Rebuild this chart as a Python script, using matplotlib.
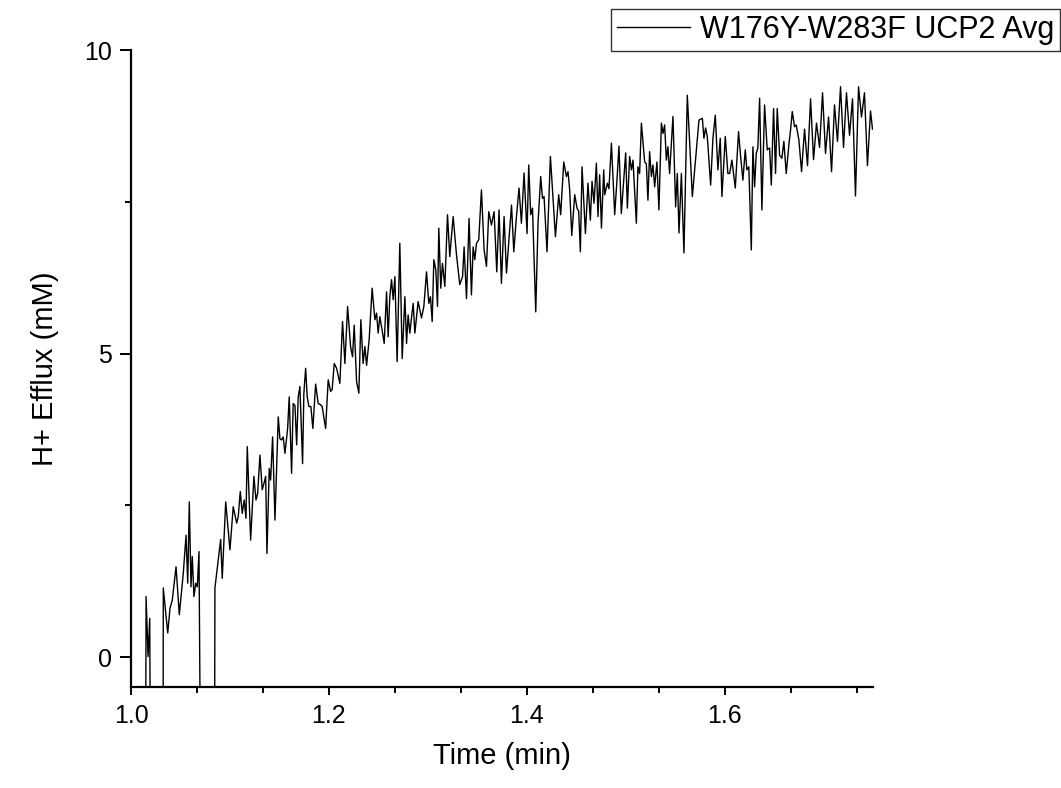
import matplotlib
matplotlib.use("Agg")
import matplotlib.pyplot as plt
from matplotlib.ticker import MultipleLocator, AutoMinorLocator, FormatStrFormatter

plt.rcParams['font.family'] = ['Liberation Sans', 'DejaVu Sans']

# time (min) and H+ efflux (mM); -3 marks dips below the axis
time_min = [
    1.0146, 1.0152, 1.0172, 1.0189, 1.0199, 1.0323, 1.0326, 1.0371, 1.0394, 1.0417,
    1.0455, 1.0488, 1.0528, 1.0556, 1.0573, 1.0589, 1.0606, 1.0619, 1.0636, 1.0654,
    1.0670, 1.0687, 1.0707, 1.0843, 1.0848, 1.0886, 1.0906, 1.0922, 1.0957, 1.1000,
    1.1033, 1.1068, 1.1084, 1.1104, 1.1124, 1.1144, 1.1162, 1.1175, 1.1209, 1.1242,
    1.1263, 1.1280, 1.1303, 1.1326, 1.1343, 1.1361, 1.1374, 1.1397, 1.1411, 1.1431,
    1.1455, 1.1488, 1.1505, 1.1522, 1.1538, 1.1556, 1.1583, 1.1599, 1.1623, 1.1639,
    1.1657, 1.1674, 1.1690, 1.1707, 1.1734, 1.1747, 1.1765, 1.1781, 1.1798, 1.1818,
    1.1838, 1.1866, 1.1892, 1.1916, 1.1932, 1.1967, 1.1993, 1.2017, 1.2033, 1.2054,
    1.2078, 1.2111, 1.2138, 1.2162, 1.2189, 1.2219, 1.2239, 1.2256, 1.2280, 1.2303,
    1.2323, 1.2346, 1.2364, 1.2381, 1.2407, 1.2437, 1.2465, 1.2482, 1.2498, 1.2515,
    1.2538, 1.2559, 1.2583, 1.2599, 1.2616, 1.2633, 1.2650, 1.2667, 1.2690, 1.2717,
    1.2741, 1.2768, 1.2785, 1.2801, 1.2818, 1.2838, 1.2852, 1.2869, 1.2902, 1.2936,
    1.2960, 1.2987, 1.3010, 1.3027, 1.3044, 1.3061, 1.3081, 1.3098, 1.3111, 1.3131,
    1.3148, 1.3172, 1.3199, 1.3222, 1.3256, 1.3290, 1.3323, 1.3351, 1.3367, 1.3391,
    1.3417, 1.3441, 1.3458, 1.3475, 1.3492, 1.3515, 1.3542, 1.3569, 1.3593, 1.3616,
    1.3643, 1.3670, 1.3697, 1.3720, 1.3744, 1.3771, 1.3795, 1.3821, 1.3846, 1.3869,
    1.3896, 1.3922, 1.3946, 1.3973, 1.4003, 1.4020, 1.4040, 1.4058, 1.4091, 1.4114,
    1.4141, 1.4159, 1.4175, 1.4205, 1.4239, 1.4290, 1.4323, 1.4343, 1.4374, 1.4401,
    1.4417, 1.4434, 1.4455, 1.4485, 1.4508, 1.4525, 1.4542, 1.4559, 1.4593, 1.4619,
    1.4643, 1.4660, 1.4680, 1.4704, 1.4720, 1.4737, 1.4755, 1.4778, 1.4788, 1.4815,
    1.4831, 1.4856, 1.4889, 1.4912, 1.4932, 1.4956, 1.4980, 1.5000, 1.5017, 1.5040,
    1.5058, 1.5074, 1.5108, 1.5124, 1.5141, 1.5159, 1.5192, 1.5209, 1.5225, 1.5242,
    1.5260, 1.5276, 1.5293, 1.5316, 1.5336, 1.5361, 1.5377, 1.5394, 1.5411, 1.5427,
    1.5444, 1.5478, 1.5505, 1.5522, 1.5539, 1.5563, 1.5589, 1.5623, 1.5674, 1.5741,
    1.5775, 1.5791, 1.5808, 1.5825, 1.5859, 1.5882, 1.5906, 1.5932, 1.5956, 1.5973,
    1.6007, 1.6033, 1.6051, 1.6074, 1.6108, 1.6141, 1.6162, 1.6185, 1.6209, 1.6225,
    1.6245, 1.6270, 1.6286, 1.6303, 1.6320, 1.6336, 1.6354, 1.6377, 1.6404, 1.6431,
    1.6455, 1.6472, 1.6495, 1.6515, 1.6532, 1.6556, 1.6579, 1.6599, 1.6623, 1.6650,
    1.6667, 1.6684, 1.6707, 1.6724, 1.6751, 1.6778, 1.6808, 1.6838, 1.6869, 1.6899,
    1.6929, 1.6960, 1.6990, 1.7020, 1.7051, 1.7081, 1.7111, 1.7141, 1.7172, 1.7202,
    1.7232, 1.7263, 1.7293, 1.7323, 1.7354, 1.7384, 1.7414, 1.7444, 1.7475, 1.7495,
]
efflux_mM = [
    -3.0, 1.00, 0.01, 0.64, -3.0, -3.0, 1.14, 0.40, 0.81, 0.94,
    1.49, 0.70, 1.38, 2.01, 1.22, 2.56, 1.16, 1.66, 1.00, 1.22,
    1.16, 1.74, -3.0, -3.0, 1.14, 1.66, 1.94, 1.30, 2.56, 1.77,
    2.48, 2.21, 2.32, 2.73, 2.37, 2.59, 2.29, 3.47, 1.93, 2.98,
    2.59, 2.70, 3.33, 2.76, 2.86, 2.98, 1.71, 3.11, 2.92, 3.63,
    2.26, 3.96, 3.60, 3.58, 3.63, 3.36, 3.77, 4.29, 3.03, 4.18,
    4.15, 3.50, 4.29, 4.46, 3.19, 4.35, 4.76, 4.29, 4.13, 4.13,
    3.77, 4.50, 4.18, 4.16, 4.13, 3.77, 4.57, 4.38, 4.41, 4.84,
    4.76, 4.51, 5.53, 4.84, 5.78, 5.12, 4.95, 5.47, 4.54, 4.35,
    5.56, 4.84, 5.12, 4.81, 5.23, 6.08, 5.56, 5.67, 5.34, 5.61,
    5.39, 5.17, 6.02, 5.28, 5.94, 6.22, 5.89, 6.27, 4.87, 6.82,
    4.92, 5.94, 5.17, 5.64, 5.34, 5.64, 5.83, 5.34, 5.86, 5.59,
    5.78, 6.35, 5.83, 5.94, 5.53, 6.55, 6.38, 5.78, 7.07, 6.08,
    6.49, 6.11, 7.29, 6.60, 7.26, 6.63, 6.14, 6.27, 6.76, 5.91,
    7.23, 5.97, 6.76, 6.55, 6.82, 6.88, 7.70, 6.71, 6.44, 7.34,
    7.12, 7.34, 6.35, 7.37, 6.16, 7.26, 6.33, 6.90, 7.45, 6.68,
    7.26, 7.73, 7.15, 7.98, 6.98, 8.11, 7.29, 7.40, 5.69, 7.15,
    7.92, 7.56, 7.59, 6.68, 8.25, 6.93, 7.62, 7.29, 8.16, 7.92,
    8.00, 7.70, 6.95, 7.62, 7.40, 7.35, 6.68, 8.08, 6.98, 7.81,
    7.20, 7.84, 7.48, 8.14, 7.26, 7.95, 7.07, 8.03, 7.62, 7.81,
    7.72, 8.47, 7.29, 7.86, 8.42, 7.31, 7.86, 8.31, 7.40, 8.25,
    8.03, 8.19, 7.15, 8.08, 7.97, 8.80, 8.16, 8.13, 7.53, 8.33,
    7.92, 8.11, 7.75, 8.16, 7.37, 8.80, 8.63, 8.77, 8.19, 8.41,
    7.97, 8.91, 7.42, 7.97, 6.99, 7.97, 6.66, 9.26, 7.59, 8.85,
    8.88, 8.55, 8.72, 8.58, 7.78, 8.55, 8.93, 8.03, 8.55, 7.59,
    8.58, 7.97, 7.97, 8.19, 7.73, 8.66, 8.25, 7.86, 8.36, 8.03,
    8.08, 6.71, 8.41, 7.75, 8.30, 8.39, 9.21, 7.37, 9.10, 8.36,
    8.39, 7.78, 9.04, 7.97, 9.04, 8.27, 8.22, 8.50, 7.97, 8.45,
    8.69, 8.99, 8.74, 8.77, 8.52, 8.00, 8.70, 8.10, 9.20, 8.20,
    8.80, 8.40, 9.30, 8.30, 8.90, 8.00, 9.10, 8.50, 9.40, 8.40,
    9.30, 8.60, 9.20, 7.60, 9.40, 8.90, 9.30, 8.10, 9.00, 8.70,
]

fig = plt.figure(figsize=(10.61, 7.88), dpi=100)
ax = fig.add_axes([0.1235, 0.1282, 0.6993, 0.808])

ax.plot(time_min, efflux_mM, color="black", linewidth=1.0,
        label="W176Y-W283F UCP2 Avg")

ax.set_xlim(1.0, 1.75)
ax.set_ylim(-0.49, 10)
ax.xaxis.set_major_locator(MultipleLocator(0.2))
ax.xaxis.set_minor_locator(AutoMinorLocator(3))
ax.yaxis.set_major_locator(MultipleLocator(5))
ax.yaxis.set_minor_locator(AutoMinorLocator(2))
ax.xaxis.set_major_formatter(FormatStrFormatter("%.1f"))

for side in ("top", "right"):
    ax.spines[side].set_visible(False)
for side in ("left", "bottom"):
    ax.spines[side].set_linewidth(1.6)

ax.tick_params(axis="both", which="major", direction="out", width=1.4,
               labelsize=18, pad=6)
ax.tick_params(axis="x", which="major", length=6)
ax.tick_params(axis="y", which="major", length=8)
ax.tick_params(axis="both", which="minor", direction="out", width=1.4, length=4)

ax.set_xlabel("Time (min)", fontsize=21, labelpad=10)
ax.set_ylabel("H+ Efflux (mM)", fontsize=21, labelpad=18)

leg = fig.legend(loc="upper right", bbox_to_anchor=(1060 / 1061, 1 - 9 / 788),
                 fontsize=22, frameon=True, fancybox=False, handlelength=2.4,
                 borderpad=0.2, handletextpad=0.3, borderaxespad=0)
leg.get_frame().set_edgecolor("black")
leg.get_frame().set_linewidth(1.0)

fig.savefig("out.png", dpi=100)
